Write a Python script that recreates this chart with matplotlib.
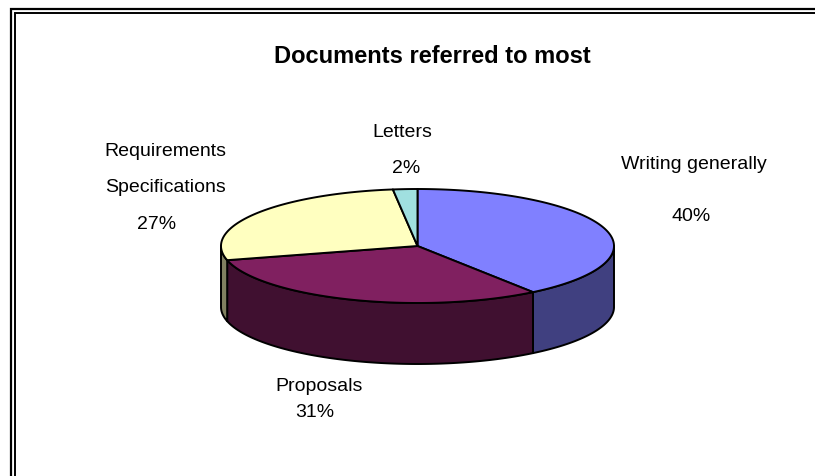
import matplotlib
matplotlib.use('Agg')
import matplotlib.pyplot as plt
from matplotlib.patches import Polygon
import numpy as np

plt.rcParams['font.family'] = ['Liberation Sans', 'DejaVu Sans']

# data
labels = ['Writing generally', 'Proposals', 'Requirements\n\nSpecifications', 'Letters']
values = [40, 31, 27, 2]
top_colors = ['#8080ff', '#802060', '#ffffc0', '#a0e0e0']
side_colors = ['#404080', '#401030', '#808060', '#507070']

# label anchors (pixels, baseline of the name line / pct line)
name_pos = [(694, 169), (319, 391), (165, 156), (402, 137)]
pct_pos = [(691, 221), (315, 417), (157, 229), (406, 173)]

# pie geometry in pixels
cx, cy = 417.5, 247
rx, ry = 196.5, 57
depth = 61


def arc(t1, t2, dy=0, n=120):
    t = np.radians(np.linspace(t1, t2, n))
    return np.column_stack([cx + rx * np.cos(t), cy - ry * np.sin(t) + dy])


fig = plt.figure(figsize=(8.15, 4.77), dpi=100)
ax = fig.add_axes([0, 0, 1, 1])
ax.set_xlim(0, 815)
ax.set_ylim(477, 0)
ax.axis('off')

# slice angles, clockwise from 12 o'clock
angles = []
start = 90.0
for v in values:
    end = start - v * 3.6
    angles.append((start, end))
    start = end

# side walls (only the front half of the cylinder shows)
for (t1, t2), col in zip(angles, side_colors):
    lo, hi = max(t2, -180), min(t1, 0)
    if lo >= hi:
        continue
    pts = np.vstack([arc(lo, hi), arc(hi, lo, depth)])
    ax.add_patch(Polygon(pts, closed=True, facecolor=col, edgecolor='black',
                         lw=1.4, joinstyle='round'))

# top faces
for (t1, t2), col in zip(angles, top_colors):
    pts = np.vstack([[cx, cy], arc(t1, t2)])
    ax.add_patch(Polygon(pts, closed=True, facecolor=col, edgecolor='black',
                         lw=1.4, joinstyle='round'))

# labels
for lab, v, (nx, ny), (px, py) in zip(labels, values, name_pos, pct_pos):
    if '\n' in lab:
        first, _, second = lab.split('\n')
        ax.text(nx, ny, first, fontsize=14, ha='center', va='baseline')
        ax.text(nx, ny + 36, second, fontsize=14, ha='center', va='baseline')
    else:
        ax.text(nx, ny, lab, fontsize=14, ha='center', va='baseline')
    ax.text(px, py, '%d%%' % v, fontsize=14, ha='center', va='baseline')

ax.text(432.5, 63, 'Documents referred to most', fontsize=17, fontweight='bold',
        ha='center', va='baseline')

# double frame
ax.plot([11, 11, 815], [477, 10, 10], color='black', lw=1.6, solid_joinstyle='miter')
ax.plot([15, 15, 815], [477, 14, 14], color='black', lw=1.4, solid_joinstyle='miter')

fig.savefig('out.png', dpi=100, facecolor='white')
